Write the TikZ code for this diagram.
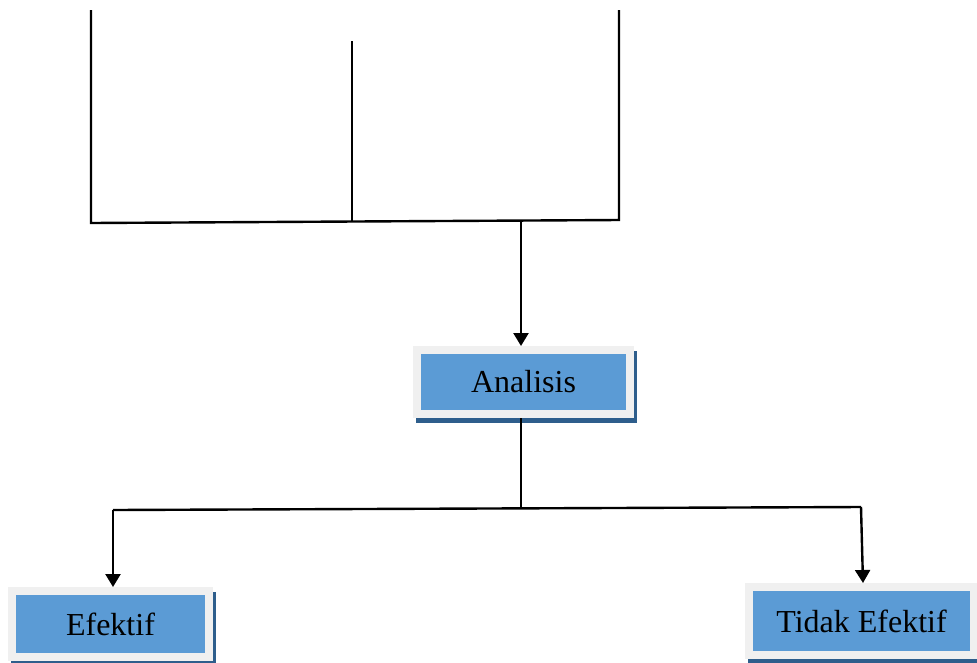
\documentclass[tikz,border=0pt]{standalone}
\usepackage{fontspec}
\setmainfont{Liberation Serif}
\usetikzlibrary{arrows.meta,backgrounds}
\definecolor{boxblue}{HTML}{5B9BD5}
\definecolor{boxgray}{HTML}{F0F0F0}
\definecolor{shadowblue}{HTML}{2E5E8C}
\tikzset{
  box/.style={fill=boxblue, draw=boxgray, line width=8pt, inner sep=0pt,
    font=\fontsize{32}{36}\selectfont, text=black},
  conn/.style={line width=2.4pt, black},
  arr/.style={conn, -{Triangle[width=15pt,length=13pt]}},
}
\begin{document}
\begin{tikzpicture}[x=1pt,y=-1pt]
\useasboundingbox (0,0) rectangle (977,662);
% boxes
\node[box, minimum width=213pt, minimum height=64pt] (an) at (523.5,382) {Analisis};
\node[box, minimum width=197pt, minimum height=66pt] (ef) at (110.5,624) {Efektif};
\node[box, minimum width=225pt, minimum height=68pt] (te) at (861.5,621) {Tidak Efektif};
% shadows
\begin{scope}[on background layer]
  \foreach \n in {an,ef,te}{
    \fill[shadowblue] ([shift={(3,5)}]\n.south west) rectangle ([shift={(3,5)}]\n.north east);
  }
\end{scope}
% top frame
\coordinate (tl) at (91,10);
\coordinate (bl) at (91,223);
\coordinate (br) at (619,220);
\coordinate (tr) at (619,10);
\coordinate (mt) at (352,41);
\coordinate (mb) at (352,221.5);
\coordinate (as) at (521,221.8);
\draw[conn] (tl) -- (bl) -- (br) -- (tr);
\draw[conn] (mt) -- (mb);
\draw[arr] (as) -- (an.north -| as);
% split below Analisis
\coordinate (j) at (521,507);
\coordinate (jl) at (113,510);
\coordinate (jr) at (861,507);
\draw[conn] (an.south -| j) -- (j);
\draw[conn] (jl) -- (jr);
\draw[arr] (jl) -- (ef.north -| jl);
\draw[arr] (jr) -- ([xshift=2pt]te.north -| jr);
\end{tikzpicture}
\end{document}
